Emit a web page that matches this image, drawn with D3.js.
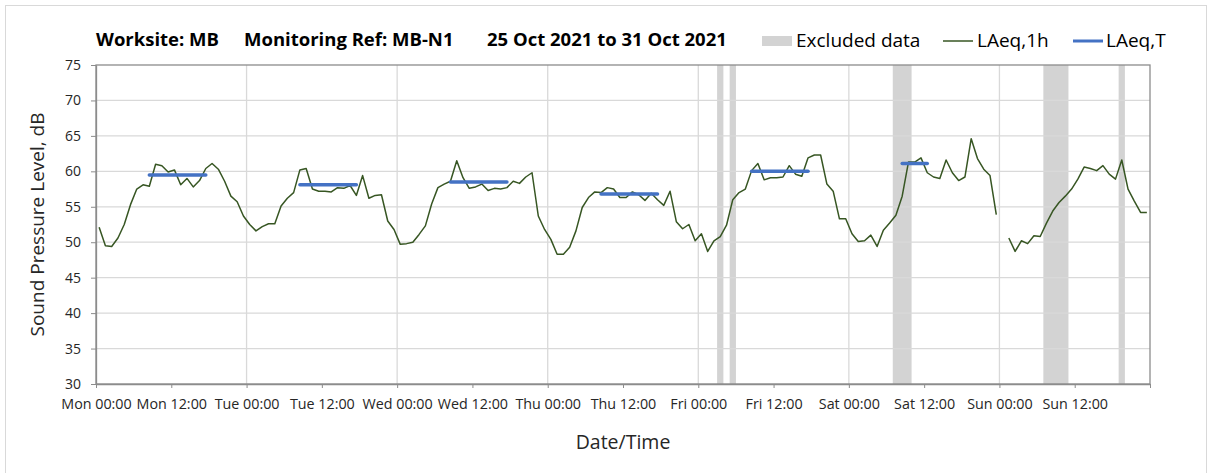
<!DOCTYPE html>
<html>
<head>
<meta charset="utf-8">
<script src="https://cdn.jsdelivr.net/npm/d3@7"></script>
<style>
  body { margin: 0; background: #fff; }
  svg { display: block; font-family: 'Open Sans', sans-serif; }
</style>
</head>
<body>
<div id="chart-container"></div>
<script>
// hourly LAeq,1h values, one array per day (00:00 .. 23:00)
const mon = [52.1, 49.5, 49.4, 50.6, 52.5, 55.3, 57.5, 58.1, 57.9, 61.0, 60.8, 59.9, 60.2, 58.1, 59.0, 57.8, 58.7, 60.4, 61.1, 60.3, 58.6, 56.5, 55.7, 53.7];
const tue = [52.5, 51.6, 52.2, 52.6, 52.6, 55.1, 56.2, 57.0, 60.2, 60.4, 57.5, 57.2, 57.2, 57.1, 57.7, 57.6, 58.0, 56.6, 59.4, 56.2, 56.6, 56.7, 53.0, 51.8];
const wed = [49.7, 49.8, 50.0, 51.1, 52.3, 55.4, 57.7, 58.2, 58.6, 61.5, 59.1, 57.6, 57.8, 58.2, 57.3, 57.6, 57.5, 57.7, 58.6, 58.3, 59.2, 59.8, 53.7, 51.8];
const thu = [50.4, 48.3, 48.3, 49.3, 51.6, 54.9, 56.3, 57.1, 57.0, 57.7, 57.5, 56.3, 56.3, 57.1, 56.7, 55.9, 56.9, 56.0, 55.2, 57.2, 52.9, 51.9, 52.5, 50.2];
const fri = [51.2, 48.7, 50.2, 50.8, 52.4, 56.0, 57.0, 57.5, 60.1, 61.1, 58.8, 59.1, 59.1, 59.2, 60.8, 59.6, 59.3, 61.9, 62.3, 62.3, 58.2, 57.2, 53.3, 53.3];
const sat = [51.2, 50.1, 50.2, 51.0, 49.4, 51.7, 52.7, 53.8, 56.5, 61.3, 61.3, 61.9, 59.8, 59.2, 59.0, 61.6, 59.8, 58.7, 59.2, 64.6, 61.8, 60.3, 59.4, 53.9];
const sun = [null, 50.6, 48.7, 50.2, 49.8, 50.9, 50.8, 52.7, 54.4, 55.6, 56.5, 57.5, 58.9, 60.6, 60.4, 60.1, 60.8, 59.6, 58.9, 61.6, 57.5, 55.8, 54.2, 54.2];

// LAeq,T daytime periods
const ltDay = [0, 1, 2, 3, 4, 5];
const ltFrom = [8, 8, 8, 8, 8, 8];
const ltTo = [17, 17, 17, 17, 17, 12];
const ltValue = [59.5, 58.1, 58.5, 56.8, 60.0, 61.1];

// excluded data, hours from Mon 00:00
const exclFrom = [99, 101, 127, 151, 163];
const exclTo = [100, 102, 130, 155, 164];

const dayNames = ['Mon', 'Tue', 'Wed', 'Thu', 'Fri', 'Sat', 'Sun'];
const yTicks = [30, 35, 40, 45, 50, 55, 60, 65, 70, 75];

const w = 1208;
const h = 473;
const padL = 96, padR = 1150, padT = 65, padB = 384;

const dataSet = [mon, tue, wed, thu, fri, sat, sun]
  .flatMap((day, i) => day.map((v, j) => ({ hour: i * 24 + j, value: v })));

const svg = d3.select('#chart-container')
  .append('svg')
  .attr('width', w)
  .attr('height', h);

svg.append('rect')
  .attr('x', 5.5).attr('y', 5.5)
  .attr('width', 1201).attr('height', 480)
  .attr('fill', '#fff')
  .attr('stroke', '#d9d9d9');

const xScale = d3.scaleLinear().domain([0, 168]).range([padL, padR]);
const yScale = d3.scaleLinear().domain([30, 75]).range([padB, padT]);

// excluded bands
svg.append('g')
  .selectAll('rect')
  .data(exclFrom.map((d, i) => [d, exclTo[i]]))
  .enter()
  .append('rect')
  .attr('x', d => xScale(d[0]))
  .attr('width', d => xScale(d[1]) - xScale(d[0]))
  .attr('y', yScale(75))
  .attr('height', yScale(30) - yScale(75))
  .attr('fill', '#d3d3d3');

// grid
const grid = svg.append('g').attr('stroke', '#d9d9d9').attr('stroke-width', 1.3);
grid.selectAll('line.h')
  .data(yTicks.slice(1, -1))
  .enter()
  .append('line')
  .attr('x1', padL).attr('x2', padR)
  .attr('y1', d => yScale(d)).attr('y2', d => yScale(d));
grid.selectAll('line.v')
  .data(d3.range(24, 168, 24))
  .enter()
  .append('line')
  .attr('y1', padT).attr('y2', padB)
  .attr('x1', d => xScale(d)).attr('x2', d => xScale(d));

// plot frame
svg.append('rect')
  .attr('x', padL).attr('y', padT)
  .attr('width', padR - padL).attr('height', padB - padT)
  .attr('fill', 'none')
  .attr('stroke', '#8c8c8c')
  .attr('stroke-width', 1.3);

// axes
const xAxis = d3.axisBottom(xScale)
  .tickValues(d3.range(0, 169, 12))
  .tickSize(4)
  .tickSizeOuter(0)
  .tickFormat(d => d >= 168 ? '' : dayNames[Math.floor(d / 24)] + (d % 24 === 0 ? ' 00:00' : ' 12:00'));
const yAxis = d3.axisLeft(yScale)
  .tickValues(yTicks)
  .tickSize(5)
  .tickSizeOuter(0);

const gx = svg.append('g')
  .attr('transform', 'translate(0, ' + padB + ')')
  .call(xAxis);
const gy = svg.append('g')
  .attr('transform', 'translate(' + padL + ', 0)')
  .call(yAxis);
[gx, gy].forEach(g => {
  g.select('.domain').attr('stroke', '#8c8c8c').attr('stroke-width', 1.3);
  g.selectAll('.tick line').attr('stroke', '#8c8c8c');
  g.selectAll('.tick text')
    .attr('fill', '#262626')
    .style('font-family', "'Open Sans', sans-serif");
});
gx.selectAll('.tick text').style('font-size', '14.3px').attr('dy', '1.25em');
gy.selectAll('.tick text').style('font-size', '14px').attr('x', -15);

// LAeq,1h line
const line = d3.line()
  .defined(d => d.value != null)
  .x(d => xScale(d.hour + 0.5))
  .y(d => yScale(d.value));
svg.append('path')
  .datum(dataSet)
  .attr('d', line)
  .attr('fill', 'none')
  .attr('stroke', '#375623')
  .attr('stroke-width', 1.5)
  .attr('stroke-linejoin', 'round');

// LAeq,T lines
svg.append('g')
  .selectAll('line')
  .data(ltDay.map((d, i) => ({ from: d * 24 + ltFrom[i], to: d * 24 + ltTo[i], value: ltValue[i] })))
  .enter()
  .append('line')
  .attr('x1', d => xScale(d.from + 0.5))
  .attr('x2', d => xScale(d.to + 0.5))
  .attr('y1', d => yScale(d.value))
  .attr('y2', d => yScale(d.value))
  .attr('stroke', '#4472c4')
  .attr('stroke-width', 3.5)
  .attr('stroke-linecap', 'round');

// title
const title = svg.append('g')
  .style('font-size', '18.5px')
  .style('font-weight', 'bold')
  .attr('fill', '#000');
title.append('text').attr('x', 96).attr('y', 46).text('Worksite: MB');
title.append('text').attr('x', 244).attr('y', 46).text('Monitoring Ref: MB-N1');
title.append('text').attr('x', 487).attr('y', 46).text('25 Oct 2021 to 31 Oct 2021');

// legend
const legend = svg.append('g')
  .style('font-size', '19px')
  .attr('fill', '#000');
legend.append('rect')
  .attr('x', 762).attr('y', 36).attr('width', 30).attr('height', 10)
  .attr('fill', '#d3d3d3');
legend.append('text').attr('x', 796).attr('y', 47).text('Excluded data');
legend.append('line')
  .attr('x1', 943).attr('x2', 973).attr('y1', 41).attr('y2', 41)
  .attr('stroke', '#375623').attr('stroke-width', 1.5);
legend.append('text').attr('x', 977).attr('y', 47).text('LAeq,1h');
legend.append('line')
  .attr('x1', 1073).attr('x2', 1103).attr('y1', 41).attr('y2', 41)
  .attr('stroke', '#4472c4').attr('stroke-width', 3);
legend.append('text').attr('x', 1106).attr('y', 47).text('LAeq,T');

// axis titles
svg.append('text')
  .attr('transform', 'translate(44, ' + (padT + padB) / 2 + ') rotate(-90)')
  .attr('text-anchor', 'middle')
  .style('font-size', '19px')
  .attr('fill', '#262626')
  .text('Sound Pressure Level, dB');
svg.append('text')
  .attr('x', (padL + padR) / 2)
  .attr('y', 449)
  .attr('text-anchor', 'middle')
  .style('font-size', '19.5px')
  .attr('fill', '#262626')
  .text('Date/Time');
</script>
</body>
</html>
